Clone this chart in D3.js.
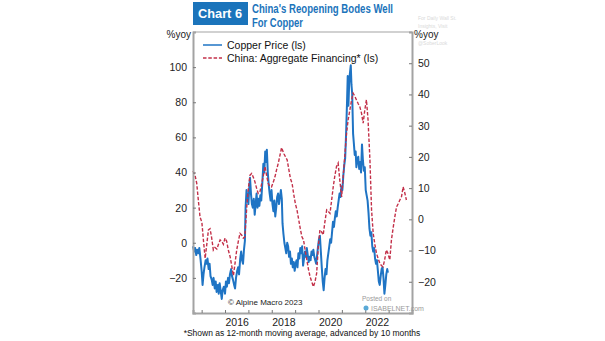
<!DOCTYPE html>
<html><head><meta charset="utf-8">
<script src="https://cdn.jsdelivr.net/npm/d3@7"></script>
<style>
body{margin:0;background:#fff;}
svg{display:block;font-family:"Liberation Sans",Arial,sans-serif;}
</style></head>
<body><svg id="c" width="605" height="341"></svg>
<script>
// ---- data ----
const copperT = [2014.63,2014.68,2014.72,2014.77,2014.81,2014.86,2014.90,2014.95,2015.00,2015.04,2015.08,2015.12,2015.17,2015.21,2015.25,2015.30,2015.34,2015.38,2015.43,2015.47,2015.51,2015.56,2015.60,2015.64,2015.69,2015.73,2015.77,2015.82,2015.86,2015.90,2015.95,2016.00,2016.04,2016.08,2016.13,2016.17,2016.21,2016.26,2016.30,2016.34,2016.39,2016.43,2016.47,2016.52,2016.56,2016.60,2016.65,2016.69,2016.73,2016.77,2016.81,2016.85,2016.88,2016.92,2016.96,2017.00,2017.04,2017.07,2017.11,2017.15,2017.19,2017.23,2017.27,2017.31,2017.35,2017.39,2017.43,2017.47,2017.51,2017.55,2017.60,2017.64,2017.68,2017.72,2017.76,2017.79,2017.83,2017.87,2017.91,2017.95,2017.99,2018.03,2018.07,2018.11,2018.15,2018.19,2018.23,2018.27,2018.31,2018.35,2018.39,2018.43,2018.46,2018.50,2018.54,2018.58,2018.62,2018.66,2018.70,2018.74,2018.78,2018.82,2018.86,2018.90,2018.94,2018.98,2019.02,2019.06,2019.10,2019.14,2019.18,2019.22,2019.26,2019.30,2019.34,2019.38,2019.42,2019.46,2019.50,2019.54,2019.58,2019.62,2019.66,2019.70,2019.74,2019.78,2019.82,2019.86,2019.90,2019.94,2019.98,2020.02,2020.06,2020.10,2020.14,2020.18,2020.22,2020.26,2020.30,2020.34,2020.38,2020.42,2020.46,2020.50,2020.54,2020.58,2020.62,2020.66,2020.70,2020.74,2020.78,2020.82,2020.86,2020.90,2020.94,2020.98,2021.02,2021.06,2021.10,2021.14,2021.18,2021.22,2021.25,2021.28,2021.31,2021.34,2021.38,2021.41,2021.44,2021.48,2021.51,2021.55,2021.59,2021.62,2021.66,2021.70,2021.74,2021.78,2021.82,2021.86,2021.90,2021.94,2021.98,2022.02,2022.06,2022.10,2022.14,2022.18,2022.22,2022.26,2022.30,2022.34,2022.38,2022.42,2022.46,2022.50,2022.54,2022.58,2022.62,2022.66,2022.70,2022.74,2022.78,2022.82,2022.86,2022.90,2022.94,2022.97];
const copperV = [-2,-5,-3,-7,-4,-6,-3,-9,-16,-24,-18,-14,-10,-12,-9,-15,-12,-19,-21,-24,-20,-26,-22,-28,-24,-29,-23,-28,-32,-27,-25,-29,-22,-25,-20,-23,-18,-15,-19,-21,-24,-26,-20,-16,-14,-18,-9,-5,-10,-12,-4,1,20,30,26,22,32,37,28,22,20,25,16,22,28,20,25,21,27,24,35,45,40,52,46,53,40,33,28,24,30,22,18,24,15,20,26,28,22,26,30,25,11,5,0,-3,-6,0,-2,-8,-5,-12,-9,-14,-11,-16,-12,-10,-14,-6,-9,-3,-6,-2,-13,-9,-5,-8,-3,-7,-11,-8,-10,-5,-7,-4,-8,-10,-12,-7,-2,2,4,-5,-14,-22,-27,-20,-15,-18,-10,-6,-2,2,0,6,12,9,14,18,15,20,24,28,26,32,30,38,44,48,62,80,95,78,90,96,101,90,85,62,57,50,52,43,47,49,42,46,40,56,47,41,43,30,27,24,17,8,4,6,-2,-5,-3,-9,-12,-10,-16,-22,-24,-19,-15,-14,-20,-29,-24,-18,-15,-17];

const financeT = [2014.63,2014.72,2014.79,2014.86,2014.93,2015.01,2015.08,2015.15,2015.22,2015.29,2015.36,2015.43,2015.50,2015.57,2015.65,2015.72,2015.79,2015.86,2015.93,2016.00,2016.07,2016.14,2016.22,2016.29,2016.36,2016.43,2016.50,2016.57,2016.64,2016.71,2016.78,2016.85,2016.93,2017.00,2017.07,2017.14,2017.21,2017.28,2017.35,2017.42,2017.50,2017.57,2017.64,2017.71,2017.78,2017.85,2017.92,2017.99,2018.07,2018.14,2018.21,2018.28,2018.35,2018.42,2018.47,2018.52,2018.59,2018.66,2018.73,2018.80,2018.87,2018.94,2019.01,2019.08,2019.15,2019.22,2019.29,2019.36,2019.43,2019.50,2019.57,2019.64,2019.71,2019.78,2019.85,2019.92,2019.99,2020.06,2020.13,2020.20,2020.27,2020.35,2020.42,2020.49,2020.56,2020.63,2020.70,2020.77,2020.84,2020.91,2020.99,2021.05,2021.12,2021.20,2021.27,2021.34,2021.41,2021.48,2021.55,2021.62,2021.70,2021.77,2021.84,2021.91,2021.98,2022.05,2022.12,2022.20,2022.27,2022.34,2022.41,2022.48,2022.55,2022.62,2022.69,2022.76,2022.83,2022.90,2022.97,2023.05,2023.12,2023.20,2023.27,2023.34,2023.41,2023.48,2023.55,2023.62,2023.69,2023.76];
const financeV = [15.5,14,11.5,6,0.8,-1,-7,-12.5,-8,-3.4,-3,-6,-9.8,-9,-9.5,-8,-6.6,-7,-8,-6,-7,-9.8,-12,-15,-18,-14,-9.8,-7,-4.5,-5,-6,-5.6,4,10,14.2,14.7,13.5,12,10,8.3,9,11.5,14,16.9,14,11.5,10.5,10.4,12,13.7,16,18,20.5,23,22,21,20,19,16,13,11.5,8,5,3,0,-3,-5.6,-6.6,-10,-13,-16,-18.4,-20,-21.6,-20,-17.3,-8.8,-3.4,-4,-5,-1,3,2.5,1.9,6,10.4,14,16.9,18,12.6,7.2,13,20,27.6,32,35,38,40.4,39.5,38.3,37,36,34,30.8,35,38.3,31.8,19,3,-4.5,-8,-10.9,-12.5,-14,-14.8,-15.2,-13,-9.8,-10.9,-13,-6.6,-2.4,1,4,5,6.2,7.2,10.4,8.5,6.2];

const leftTicks = [-20,0,20,40,60,80,100];
const rightTicks = [-20,-10,0,10,20,30,40,50];
const yearTicks = [2015,2016,2017,2018,2019,2020,2021,2022,2023];
const yearLabels = ["2016","2018","2020","2022"];

const seriesNames = ["Copper Price (ls)","China: Aggregate Financing* (ls)"];

// ---- layout ----
const L=193, R=412, T=32, B=313;
const blue="#1f74c4", red="#c33049", axisGrey="#a3a3a3";
const svg=d3.select("#c");

const x=d3.scaleLinear().domain([2014.63,2024.0]).range([L,R]);
const yL=d3.scaleLinear().domain([-40,120]).range([B,T]);
const yR=d3.scaleLinear().domain([-30,60]).range([B,T]);

// title
svg.append("rect").attr("x",193).attr("y",2).attr("width",55).attr("height",23).attr("fill","#1b74bb");
svg.append("text").attr("x",198).attr("y",18).attr("fill","#fff").attr("font-weight","bold")
  .attr("font-size",12).attr("textLength",44).attr("lengthAdjust","spacingAndGlyphs").text("Chart 6");
svg.append("text").attr("x",252).attr("y",12.5).attr("fill","#1b74bb").attr("font-weight","bold")
  .attr("font-size",12).attr("textLength",141).attr("lengthAdjust","spacingAndGlyphs").text("China's Reopening Bodes Well");
svg.append("text").attr("x",252).attr("y",26.5).attr("fill","#1b74bb").attr("font-weight","bold")
  .attr("font-size",12).attr("textLength",51).attr("lengthAdjust","spacingAndGlyphs").text("For Copper");

// watermark
const wm=svg.append("g").attr("fill","#dadada").attr("font-size",5);
wm.append("text").attr("x",418).attr("y",20).text("For Daily Wall St.");
wm.append("text").attr("x",418).attr("y",28).text("Insights, Visit");
wm.append("text").attr("x",418).attr("y",45).text("@SoberLook");

// frame
svg.append("line").attr("x1",L).attr("x2",R).attr("y1",T).attr("y2",T).attr("stroke",axisGrey).attr("stroke-width",1);

// lines
const lineL=d3.line().x(d=>x(d[0])).y(d=>yL(d[1]));
const lineR=d3.line().x(d=>x(d[0])).y(d=>yR(d[1]));
const cData=copperT.map((t,i)=>[t,copperV[i]]);
const fData=financeT.map((t,i)=>[t,financeV[i]]);
svg.append("path").datum(cData).attr("d",lineL).attr("fill","none").attr("stroke",blue).attr("stroke-width",2).attr("stroke-linejoin","round");
svg.append("path").datum(fData).attr("d",lineR).attr("fill","none").attr("stroke",red).attr("stroke-width",1.4).attr("stroke-dasharray","3.5,1.8");

// axes
const gl=svg.append("g").attr("transform",`translate(${L},0)`)
  .call(d3.axisLeft(yL).tickValues(leftTicks).tickSize(-3).tickPadding(6));
const gr=svg.append("g").attr("transform",`translate(${R},0)`)
  .call(d3.axisRight(yR).tickValues(rightTicks).tickSize(-3).tickPadding(6));
const gb=svg.append("g").attr("transform",`translate(0,${B})`)
  .call(d3.axisBottom(x).tickValues(yearTicks).tickSize(-3).tickFormat(""));
const gbl=svg.append("g").attr("transform",`translate(0,${B})`)
  .call(d3.axisBottom(x).tickValues(yearLabels.map(s=>+s+0.5)).tickSize(0).tickPadding(6).tickFormat(d=>String(Math.floor(d))));
gbl.select(".domain").remove();
[gl,gr,gb].forEach(g=>{g.select(".domain").attr("stroke",axisGrey).attr("stroke-width",2);g.selectAll(".tick line").attr("stroke","#777");});
svg.selectAll(".tick text").attr("font-size",10.5).attr("fill","#222").attr("font-family","'Liberation Sans',Arial,sans-serif");

// units
svg.append("text").attr("x",191).attr("y",38).attr("text-anchor","end").attr("font-size",10).attr("fill","#222").text("%yoy");
svg.append("text").attr("x",414).attr("y",38).attr("font-size",10).attr("fill","#222").text("%yoy");

// legend
const lg=svg.append("g");
lg.append("line").attr("x1",203).attr("x2",222).attr("y1",45).attr("y2",45).attr("stroke",blue).attr("stroke-width",1.5);
lg.append("line").attr("x1",203).attr("x2",222).attr("y1",58).attr("y2",58).attr("stroke",red).attr("stroke-width",1.3).attr("stroke-dasharray","3.5,1.8");
lg.append("text").attr("x",227).attr("y",49).attr("font-size",10.5).attr("fill","#111").text(seriesNames[0]);
lg.append("text").attr("x",227).attr("y",62).attr("font-size",10.5).attr("fill","#111").text(seriesNames[1]);

// notes
svg.append("text").attr("x",228).attr("y",305).attr("font-size",8).attr("fill","#222").text("© Alpine Macro 2023");
svg.append("text").attr("x",362).attr("y",301).attr("font-size",6.5).attr("fill","#9a9a9a").text("Posted on");
svg.append("circle").attr("cx",366).attr("cy",308).attr("r",2.5).attr("fill","#5aa9d6");
svg.append("text").attr("x",371).attr("y",311).attr("font-size",7).attr("fill","#9a9a9a").text("ISABELNET.com");
svg.append("text").attr("x",302).attr("y",336).attr("text-anchor","middle").attr("font-size",8.5).attr("fill","#111")
  .text("*Shown as 12-month moving average, advanced by 10 months");
</script></body></html>
